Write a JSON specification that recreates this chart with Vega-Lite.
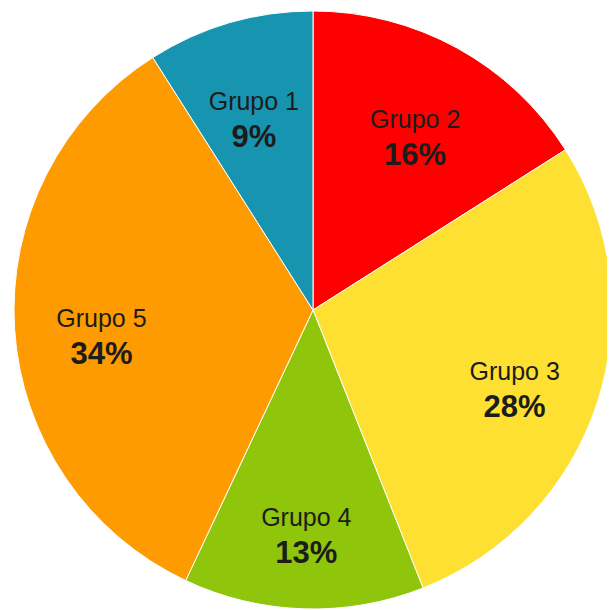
{
  "$schema": "https://vega.github.io/schema/vega-lite/v6.json",
  "width": 588,
  "height": 604,
  "autosize": "none",
  "padding": {"left": 19, "top": 8, "right": 0, "bottom": 0},
  "background": "white",
  "view": {"stroke": null},
  "data": {
    "values": [
      {"grupo": "Grupo 2", "porcentaje": 0.16, "orden": 1},
      {"grupo": "Grupo 3", "porcentaje": 0.28, "orden": 2},
      {"grupo": "Grupo 4", "porcentaje": 0.13, "orden": 3},
      {"grupo": "Grupo 5", "porcentaje": 0.34, "orden": 4},
      {"grupo": "Grupo 1", "porcentaje": 0.09, "orden": 5}
    ]
  },
  "encoding": {
    "theta": {"field": "porcentaje", "type": "quantitative", "stack": true},
    "order": {"field": "orden", "type": "quantitative"},
    "color": {
      "field": "grupo",
      "type": "nominal",
      "scale": {
        "domain": ["Grupo 1", "Grupo 2", "Grupo 3", "Grupo 4", "Grupo 5"],
        "range": ["#1795b0", "#fe0000", "#fde031", "#8fc50a", "#fe9b00"]
      },
      "legend": null
    }
  },
  "layer": [
    {
      "mark": {"type": "arc", "outerRadius": 299, "stroke": "white", "strokeWidth": 1}
    },
    {
      "mark": {"type": "text", "radius": 212, "dy": 4, "font": "Liberation Sans", "fontSize": 25, "align": "center", "baseline": "alphabetic"},
      "encoding": {
        "text": {"field": "grupo", "type": "nominal"},
        "detail": {"field": "grupo", "type": "nominal"},
        "color": {"value": "#1c1c1c"}
      }
    },
    {
      "mark": {"type": "text", "radius": 212, "dy": 41, "font": "Liberation Sans", "fontSize": 31, "fontWeight": "bold", "align": "center", "baseline": "alphabetic"},
      "encoding": {
        "text": {"field": "porcentaje", "type": "quantitative", "format": ".0%"},
        "detail": {"field": "grupo", "type": "nominal"},
        "color": {"value": "#1c1c1c"}
      }
    }
  ]
}
